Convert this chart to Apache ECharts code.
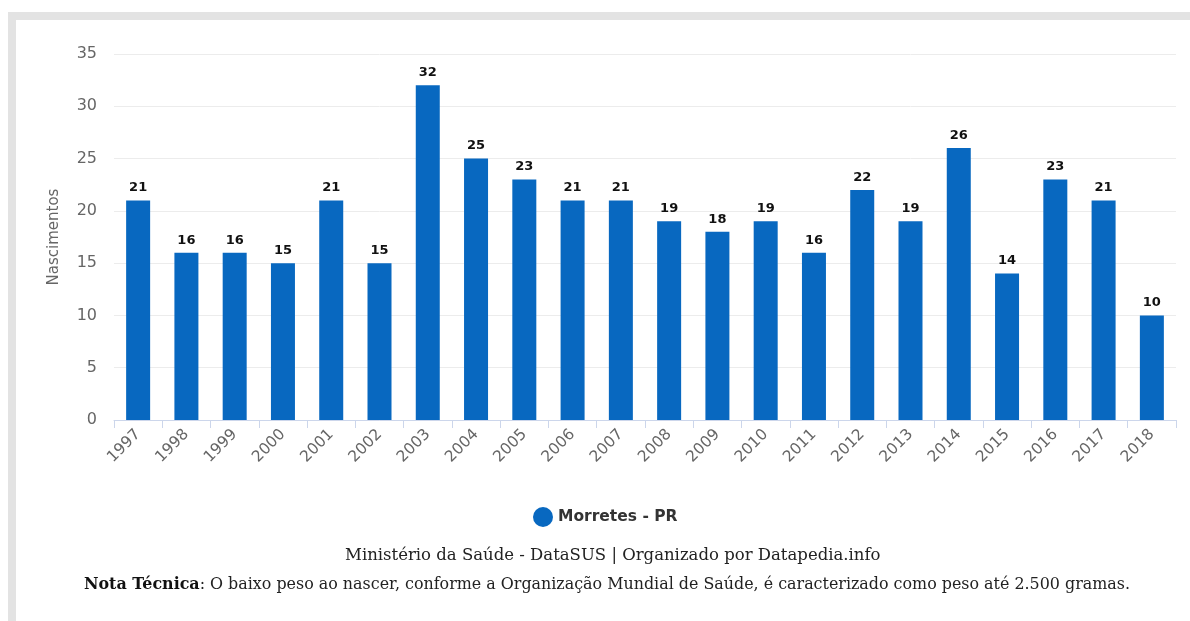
<!DOCTYPE html>
<html>
<head>
<meta charset="utf-8">
<script src="https://cdn.jsdelivr.net/npm/echarts@6/dist/echarts.min.js"></script>
<style>
  html, body { margin: 0; padding: 0; background: #fff; }
  #frame { position: absolute; left: 8px; top: 12px; width: 1182px; height: 609px;
           border-top: 8px solid #e3e3e3; border-left: 8px solid #e3e3e3; box-sizing: border-box; }
  #chart { position: absolute; left: 0; top: 0; width: 1190px; height: 621px; }
</style>
</head>
<body>
<div id="frame"></div>
<div id="chart"></div>
<script>
  // anos e nascimentos com baixo peso
  const years = ['1997', '1998', '1999', '2000', '2001', '2002', '2003', '2004', '2005', '2006', '2007',
                 '2008', '2009', '2010', '2011', '2012', '2013', '2014', '2015', '2016', '2017', '2018']
  const births = [21, 16, 16, 15, 21, 15, 32, 25, 23, 21, 21, 19, 18, 19, 16, 22, 19, 26, 14, 23, 21, 10]
  const seriesName = 'Morretes - PR'
  const sourceText = 'Ministério da Saúde - DataSUS | Organizado por Datapedia.info'
  const noteTitle = 'Nota Técnica'
  const noteText = ': O baixo peso ao nascer, conforme a Organização Mundial de Saúde, é caracterizado como peso até 2.500 gramas.'

  const chart = echarts.init(document.getElementById('chart'))
  const barColor = '#0868c0'
  const sans = 'DejaVu Sans'

  chart.setOption({
    animation: false,
    grid: { left: 114, right: 14, top: 54, bottom: 201 },
    legend: {
      data: [seriesName],
      left: 528,
      top: 502,
      icon: 'circle',
      itemWidth: 20,
      itemHeight: 20,
      itemGap: 6,
      textStyle: { color: '#333', fontSize: 15.5, fontWeight: 'bold', fontFamily: sans }
    },
    xAxis: {
      type: 'category',
      data: years,
      axisLine: { lineStyle: { color: '#ccd6eb' } },
      axisTick: { show: true, length: 8, lineStyle: { color: '#ccd6eb' } },
      axisLabel: { rotate: 45, color: '#666', fontSize: 15.5, fontFamily: sans, margin: 12, interval: 0 }
    },
    yAxis: {
      type: 'value',
      min: 0,
      max: 35,
      interval: 5,
      name: 'Nascimentos',
      nameLocation: 'middle',
      nameGap: 52,
      nameTextStyle: { color: '#666', fontSize: 15, fontFamily: sans },
      axisLine: { show: false },
      axisTick: { show: false },
      axisLabel: { color: '#666', fontSize: 16, fontFamily: sans, margin: 17 },
      splitLine: { lineStyle: { color: '#ececec' } }
    },
    series: [{
      name: seriesName,
      type: 'bar',
      data: births,
      barWidth: 24,
      itemStyle: { color: barColor },
      label: {
        show: true,
        position: 'top',
        distance: 6,
        color: '#111',
        fontSize: 13,
        fontWeight: 'bold',
        fontFamily: sans
      }
    }],
    graphic: [
      {
        type: 'text',
        left: 345,
        top: 547,
        style: {
          text: sourceText,
          fill: '#222',
          font: '16.5px "DejaVu Serif", serif'
        }
      },
      {
        type: 'text',
        left: 84,
        top: 577,
        style: {
          text: '{b|' + noteTitle + '}{n|' + noteText + '}',
          rich: {
            b: { fill: '#111', fontSize: 15.9, fontWeight: 'bold', fontFamily: 'DejaVu Serif' },
            n: { fill: '#222', fontSize: 15.9, fontFamily: 'DejaVu Serif' }
          }
        }
      }
    ]
  })
</script>
</body>
</html>
